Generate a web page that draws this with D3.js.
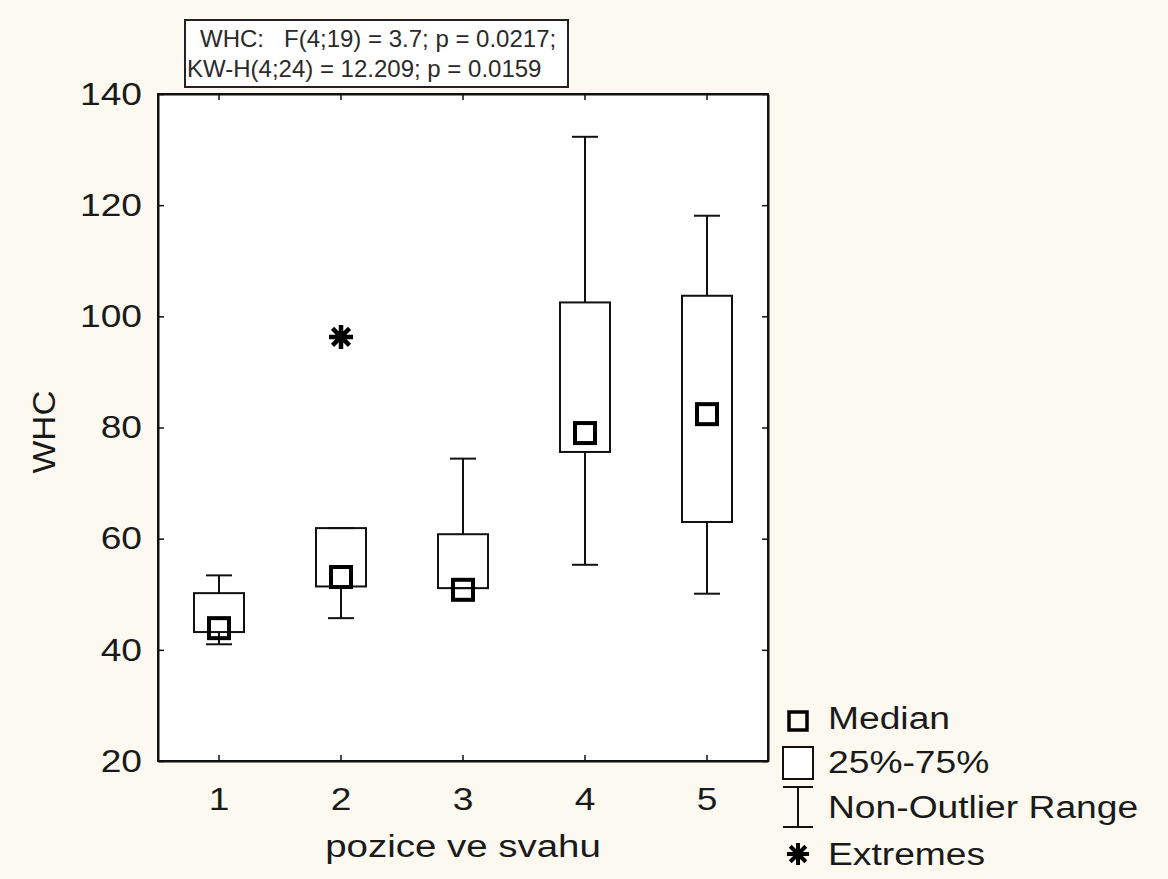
<!DOCTYPE html>
<html>
<head>
<meta charset="utf-8">
<script src="https://cdn.jsdelivr.net/npm/d3@7"></script>
<style>
  body { margin: 0; background: #fcf9f0; }
  svg { display: block; }
</style>
</head>
<body>
<div id="chart"></div>
<script>
// box plot values
var positions = ['1', '2', '3', '4', '5'];
var whisker_low = [41.0, 45.7, 51.1, 55.3, 50.1];
var q1 = [43.2, 51.4, 51.1, 75.6, 63.0];
var medians = [43.9, 53.1, 50.8, 79.0, 82.4];
var q3 = [50.2, 61.9, 60.8, 102.5, 103.7];
var whisker_high = [53.4, 61.9, 74.4, 132.3, 118.1];
var extreme_pos = ['2'];
var extreme_val = [96.3];
var y_ticks = [20, 40, 60, 80, 100, 120, 140];
var stats_lines = ['WHC:   F(4;19) = 3.7; p = 0.0217;', 'KW-H(4;24) = 12.209; p = 0.0159'];
var legend_labels = ['Median', '25%-75%', 'Non-Outlier Range', 'Extremes'];

var svg_width = 1168, svg_height = 879;
var plot_left = 158, plot_right = 768, plot_top = 94, plot_bottom = 761;
var font = '"Liberation Sans", Arial, sans-serif';

var svg = d3.select('#chart').append('svg')
  .attr('width', svg_width)
  .attr('height', svg_height);

svg.append('rect')
  .attr('width', svg_width).attr('height', svg_height)
  .attr('fill', '#fcf9f0');

var x = d3.scaleBand().domain(positions).range([plot_left, plot_right]);
var y = d3.scaleLinear().domain([20, 140]).range([plot_bottom, plot_top]);
var cx = function(p) { return x(p) + x.bandwidth() / 2; };

// text in the picture is a bit wider than the font
var stretch = function(sel, k) {
  sel.each(function() {
    var w = this.getComputedTextLength();
    d3.select(this).attr('textLength', w * k).attr('lengthAdjust', 'spacingAndGlyphs');
  });
};

// plot frame
svg.append('rect')
  .attr('x', plot_left).attr('y', plot_top)
  .attr('width', plot_right - plot_left).attr('height', plot_bottom - plot_top)
  .attr('fill', '#ffffff')
  .attr('stroke', '#111')
  .attr('stroke-width', 2);

var yaxis = svg.append('g')
  .attr('transform', 'translate(' + plot_left + ',0)')
  .call(d3.axisLeft(y).tickValues(y_ticks).tickSizeInner(-6).tickSizeOuter(0).tickPadding(16));
var yaxis_r = svg.append('g')
  .attr('transform', 'translate(' + plot_right + ',0)')
  .call(d3.axisRight(y).tickValues(y_ticks).tickSizeInner(-6).tickSizeOuter(0).tickFormat(''));
var xaxis = svg.append('g')
  .attr('transform', 'translate(0,' + plot_bottom + ')')
  .call(d3.axisBottom(x).tickSizeInner(-6).tickSizeOuter(0).tickPadding(26));
var xaxis_t = svg.append('g')
  .attr('transform', 'translate(0,' + plot_top + ')')
  .call(d3.axisTop(x).tickSizeInner(-6).tickSizeOuter(0).tickFormat(''));

[yaxis, yaxis_r, xaxis, xaxis_t].forEach(function(a) {
  a.select('.domain').attr('stroke', '#111').attr('stroke-width', 2);
  a.selectAll('.tick line').attr('stroke', '#111').attr('stroke-width', 1.5);
  a.selectAll('text')
    .attr('font-family', font)
    .attr('font-size', 32)
    .attr('fill', '#1a1a1a');
});
stretch(yaxis.selectAll('text'), 1.16);
stretch(xaxis.selectAll('text'), 1.16);

// axis titles
svg.append('text')
  .attr('transform', 'translate(55,432) rotate(-90)')
  .attr('text-anchor', 'middle')
  .attr('font-family', font).attr('font-size', 31).attr('fill', '#1a1a1a')
  .text('WHC')
  .call(stretch, 1.12);

svg.append('text')
  .attr('x', (plot_left + plot_right) / 2).attr('y', 857)
  .attr('text-anchor', 'middle')
  .attr('font-family', font).attr('font-size', 31).attr('fill', '#1a1a1a')
  .text('pozice ve svahu')
  .call(stretch, 1.24);

// boxes
var box_data = positions.map(function(p, i) {
  return { pos: p, lo: whisker_low[i], q1: q1[i], med: medians[i], q3: q3[i], hi: whisker_high[i] };
});
var box_w = 50, cap_w = 26, med_s = 20;

var boxes = svg.append('g').selectAll('g')
  .data(box_data)
  .enter()
  .append('g');

boxes.append('line')
  .attr('x1', d => cx(d.pos)).attr('x2', d => cx(d.pos))
  .attr('y1', d => y(d.q3)).attr('y2', d => y(d.hi))
  .attr('stroke', '#111').attr('stroke-width', 2);
boxes.append('line')
  .attr('x1', d => cx(d.pos)).attr('x2', d => cx(d.pos))
  .attr('y1', d => y(d.q1)).attr('y2', d => y(d.lo))
  .attr('stroke', '#111').attr('stroke-width', 2);
boxes.append('line')
  .attr('x1', d => cx(d.pos) - cap_w / 2).attr('x2', d => cx(d.pos) + cap_w / 2)
  .attr('y1', d => y(d.hi)).attr('y2', d => y(d.hi))
  .attr('stroke', '#111').attr('stroke-width', 2);
boxes.append('line')
  .attr('x1', d => cx(d.pos) - cap_w / 2).attr('x2', d => cx(d.pos) + cap_w / 2)
  .attr('y1', d => y(d.lo)).attr('y2', d => y(d.lo))
  .attr('stroke', '#111').attr('stroke-width', 2);
boxes.append('rect')
  .attr('x', d => cx(d.pos) - box_w / 2)
  .attr('y', d => y(d.q3))
  .attr('width', box_w)
  .attr('height', d => y(d.q1) - y(d.q3))
  .attr('fill', 'none')
  .attr('stroke', '#111').attr('stroke-width', 2);
boxes.append('rect')
  .attr('x', d => cx(d.pos) - med_s / 2)
  .attr('y', d => y(d.med) - med_s / 2)
  .attr('width', med_s).attr('height', med_s)
  .attr('fill', 'none')
  .attr('stroke', '#000').attr('stroke-width', 4);

// asterisk with 8 spokes
var asterisk = function(r) {
  var p = '', a = r * Math.SQRT1_2;
  p += 'M' + (-r) + ',0L' + r + ',0';
  p += 'M0,' + (-r) + 'L0,' + r;
  p += 'M' + (-a) + ',' + (-a) + 'L' + a + ',' + a;
  p += 'M' + (-a) + ',' + a + 'L' + a + ',' + (-a);
  return p;
};

svg.append('g').selectAll('path')
  .data(extreme_pos.map(function(p, i) { return { pos: p, v: extreme_val[i] }; }))
  .enter()
  .append('path')
  .attr('transform', d => 'translate(' + cx(d.pos) + ',' + y(d.v) + ')')
  .attr('d', asterisk(12))
  .attr('stroke', '#000').attr('stroke-width', 4.5);

// stats box
svg.append('rect')
  .attr('x', 185).attr('y', 20)
  .attr('width', 383).attr('height', 67)
  .attr('fill', '#ffffff')
  .attr('stroke', '#222').attr('stroke-width', 2);
svg.append('g').selectAll('text')
  .data(stats_lines)
  .enter()
  .append('text')
  .attr('x', (d, i) => i == 0 ? 200 : 187)
  .attr('y', (d, i) => 47 + i * 30)
  .attr('font-family', font).attr('font-size', 24).attr('fill', '#2a2a2a')
  .attr('xml:space', 'preserve')
  .style('white-space', 'pre')
  .text(d => d);

// legend
var leg_x = 798, text_x = 828;
var leg_base = [729, 773, 818, 865];
var legend = svg.append('g');
legend.append('rect')
  .attr('x', leg_x - 9).attr('y', 712).attr('width', 18).attr('height', 18)
  .attr('fill', 'none').attr('stroke', '#000').attr('stroke-width', 3.5);
legend.append('rect')
  .attr('x', leg_x - 15).attr('y', 747).attr('width', 30).attr('height', 32)
  .attr('fill', '#fff').attr('stroke', '#111').attr('stroke-width', 2);
legend.append('path')
  .attr('d', 'M' + (leg_x - 15) + ',787H' + (leg_x + 15) + 'M' + leg_x + ',787V827M' + (leg_x - 15) + ',827H' + (leg_x + 15))
  .attr('fill', 'none').attr('stroke', '#111').attr('stroke-width', 2);
legend.append('path')
  .attr('transform', 'translate(' + leg_x + ',854)')
  .attr('d', asterisk(11))
  .attr('stroke', '#000').attr('stroke-width', 4);
legend.selectAll('text')
  .data(legend_labels)
  .enter()
  .append('text')
  .attr('x', text_x)
  .attr('y', (d, i) => leg_base[i])
  .attr('font-family', font).attr('font-size', 31).attr('fill', '#1a1a1a')
  .text(d => d)
  .call(stretch, 1.2);
</script>
</body>
</html>
